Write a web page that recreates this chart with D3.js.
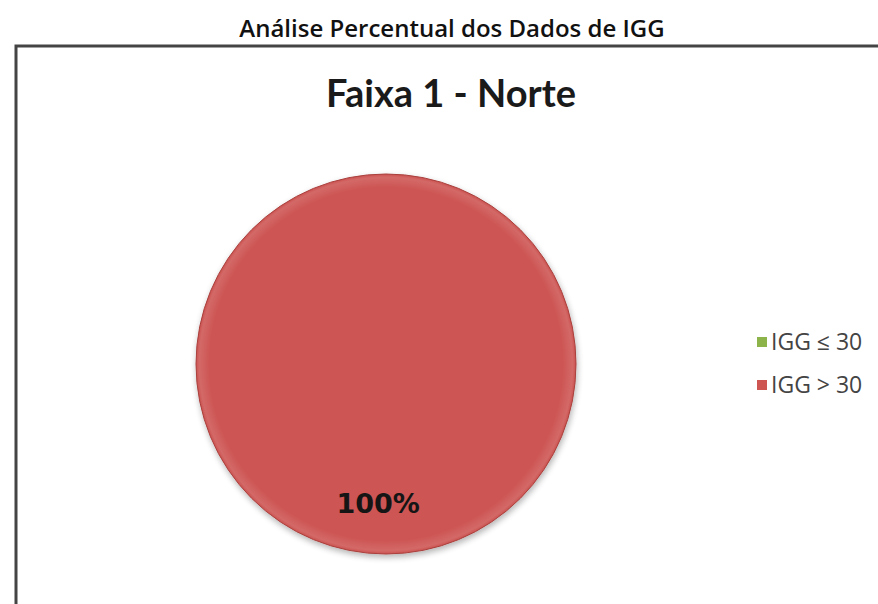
<!DOCTYPE html>
<html><head><meta charset="utf-8">
<script src="https://cdn.jsdelivr.net/npm/d3@7"></script>
<style>body{margin:0;background:#fff}svg{display:block}</style>
</head><body>
<svg id="c" width="878" height="604"></svg>
<script>
const categories = ["IGG ≤ 30", "IGG > 30"];
const values = [0, 100];
const labels = ["0%", "100%"];
const colors = ["#8DB44A", "#CD5552"];
const pageTitle = "Análise Percentual dos Dados de IGG";
const chartTitle = "Faixa 1 - Norte";

const svg = d3.select("#c");
const sans = "'Open Sans', 'Noto Sans', sans-serif";

svg.append("text").attr("x", 452).attr("y", 37).attr("text-anchor", "middle")
  .attr("font-family", sans).attr("font-weight", 600).attr("font-size", 24)
  .attr("fill", "#111").text(pageTitle);

// frame
svg.append("path").attr("d", "M16,604 V46 H878").attr("fill", "none")
  .attr("stroke", "#444").attr("stroke-width", 3);

svg.append("text").attr("x", 451).attr("y", 107).attr("text-anchor", "middle")
  .attr("font-family", "Lato, 'Open Sans', sans-serif").attr("font-weight", "bold").attr("font-size", 38)
  .attr("fill", "#1a1a1a").text(chartTitle);

const defs = svg.append("defs");
const f = defs.append("filter").attr("id", "sh").attr("x", "-20%").attr("y", "-20%").attr("width", "140%").attr("height", "140%");
f.append("feGaussianBlur").attr("in", "SourceAlpha").attr("stdDeviation", 3);
f.append("feOffset").attr("dx", 1).attr("dy", 3).attr("result", "b");
f.append("feComponentTransfer").append("feFuncA").attr("type", "linear").attr("slope", 0.3);
const m = f.append("feMerge"); m.append("feMergeNode"); m.append("feMergeNode").attr("in", "SourceGraphic");

const rg = defs.append("radialGradient").attr("id", "bev").attr("cx", "50%").attr("cy", "50%").attr("r", "50%");
rg.append("stop").attr("offset", "0.93").attr("stop-color", "#fff").attr("stop-opacity", 0);
rg.append("stop").attr("offset", "0.985").attr("stop-color", "#fff").attr("stop-opacity", 0.12);
rg.append("stop").attr("offset", "1").attr("stop-color", "#fff").attr("stop-opacity", 0);

const cx = 386, cy = 364, r = 190;
const pie = d3.pie().sort(null).value(d => d)(values);
const arc = d3.arc().innerRadius(0).outerRadius(r);
const g = svg.append("g").attr("transform", `translate(${cx},${cy})`);
g.selectAll("path.s").data(pie).enter().append("path").attr("class", "s")
  .attr("d", arc).attr("fill", (d, i) => colors[i])
  .attr("stroke", "#A9413E").attr("stroke-width", 1)
  .attr("filter", "url(#sh)");
g.append("circle").attr("r", r - 0.5).attr("fill", "url(#bev)");

const lab = d3.arc().innerRadius(r * 0.733).outerRadius(r * 0.733);
g.selectAll("text").data(pie.filter(d => d.value > 0)).enter().append("text")
  .attr("transform", d => {
    const c = lab.centroid({startAngle: Math.PI * 1.018, endAngle: Math.PI * 1.018});
    return `translate(${c[0]},${c[1]})`;
  })
  .attr("text-anchor", "middle").attr("dy", "0.35em")
  .attr("font-family", "'DejaVu Sans', sans-serif").attr("font-weight", "bold").attr("font-size", 27)
  .attr("fill", "#151515").text(d => labels[d.index]);

const leg = svg.append("g");
categories.forEach((c, i) => {
  const y = 342 + i * 43;
  leg.append("rect").attr("x", 757).attr("y", y - 5).attr("width", 10).attr("height", 10)
    .attr("fill", colors[i]);
  leg.append("text").attr("x", 771).attr("y", y).attr("dy", "0.35em")
    .attr("font-family", sans).attr("font-size", 23).attr("fill", "#444").text(c);
});
</script>
</body></html>
